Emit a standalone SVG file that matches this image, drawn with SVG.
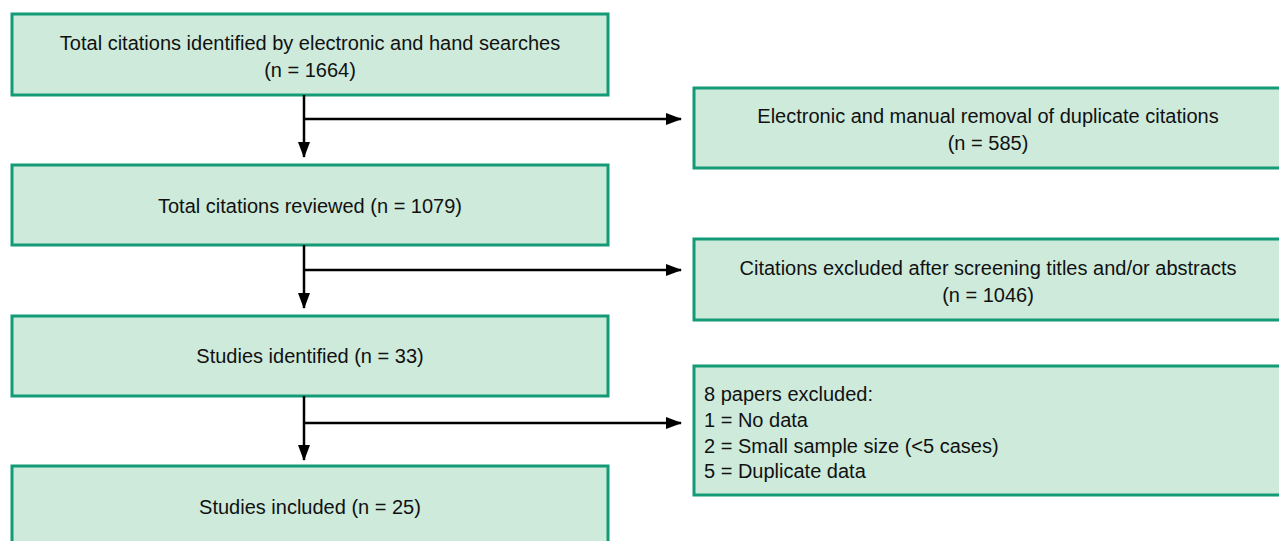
<svg xmlns="http://www.w3.org/2000/svg" width="1279" height="541" viewBox="0 0 1279 541">
<defs>
<style>
.box{fill:#cdeadb;stroke:#139a77;stroke-width:3}
.t{font-family:"Liberation Sans",Arial,sans-serif;font-size:20px;fill:#111}
.c{text-anchor:middle}
.ln{stroke:#000;stroke-width:2.5;fill:none}
</style>
<marker id="ah" markerWidth="16" markerHeight="12" refX="15" refY="6" orient="auto" markerUnits="userSpaceOnUse" viewBox="0 0 16 12">
<path d="M0,0 L16,6 L0,12 z" fill="#000"/>
</marker>
</defs>
<rect width="1279" height="541" fill="#fff"/>
<g id="n1"><rect class="box" x="12" y="14" width="596" height="81"/>
<text class="t c" x="310" y="50">Total citations identified by electronic and hand searches</text>
<text class="t c" x="310" y="77">(n = 1664)</text></g>
<g id="n2"><rect class="box" x="12" y="165" width="596" height="80"/>
<text class="t c" x="310" y="213">Total citations reviewed (n = 1079)</text></g>
<g id="n3"><rect class="box" x="12" y="316" width="596" height="80"/>
<text class="t c" x="310" y="363">Studies identified (n = 33)</text></g>
<g id="n4"><rect class="box" x="12" y="466" width="596" height="80"/>
<text class="t c" x="310" y="514">Studies included (n = 25)</text></g>
<g id="r1"><rect class="box" x="694" y="88" width="590" height="80"/>
<text class="t c" x="988" y="123">Electronic and manual removal of duplicate citations</text>
<text class="t c" x="988" y="150">(n = 585)</text></g>
<g id="r2"><rect class="box" x="694" y="239" width="590" height="81"/>
<text class="t c" x="988" y="275">Citations excluded after screening titles and/or abstracts</text>
<text class="t c" x="988" y="302">(n = 1046)</text></g>
<g id="r3"><rect class="box" x="694" y="366" width="590" height="129"/>
<text class="t" x="704" y="401">8 papers excluded:</text>
<text class="t" x="704" y="427">1 = No data</text>
<text class="t" x="704" y="453">2 = Small sample size (&lt;5 cases)</text>
<text class="t" x="704" y="478">5 = Duplicate data</text></g>
<g id="connectors">
<line class="ln" x1="304" y1="95" x2="304" y2="157" marker-end="url(#ah)"/>
<line class="ln" x1="304" y1="119" x2="681" y2="119" marker-end="url(#ah)"/>
<line class="ln" x1="304" y1="245" x2="304" y2="308" marker-end="url(#ah)"/>
<line class="ln" x1="304" y1="270" x2="681" y2="270" marker-end="url(#ah)"/>
<line class="ln" x1="304" y1="396" x2="304" y2="460" marker-end="url(#ah)"/>
<line class="ln" x1="304" y1="423" x2="681" y2="423" marker-end="url(#ah)"/>
</g>
</svg>
